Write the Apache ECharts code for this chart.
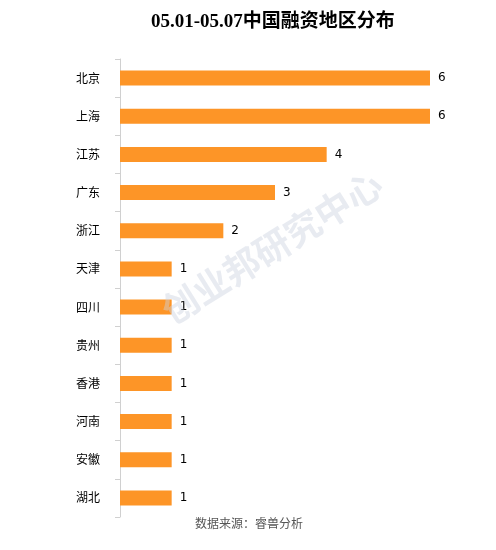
<!DOCTYPE html>
<html>
<head>
<meta charset="utf-8">
<title>融资地区分布</title>
<script src="https://cdn.jsdelivr.net/npm/echarts@6/dist/echarts.min.js"></script>
<style>
    html, body { margin: 0; padding: 0; background: #fff; }
    #main { width: 496px; height: 550px; }
</style>
</head>
<body>
<div id="main"></div>
<script type="text/javascript">
    // data
    var regions = ['北京', '上海', '江苏', '广东', '浙江', '天津', '四川', '贵州', '香港', '河南', '安徽', '湖北'];
    var counts = [6, 6, 4, 3, 2, 1, 1, 1, 1, 1, 1, 1];

    var myChart = echarts.init(document.getElementById('main'));
    var option = {
        backgroundColor: '#fff',
        animation: false,
        title: {
            text: '05.01-05.07中国融资地区分布',
            left: 146,
            top: 8,
            textStyle: {
                fontFamily: '"Liberation Serif", "Noto Sans CJK SC", serif',
                fontSize: 19,
                fontWeight: 'bold',
                color: '#000'
            }
        },
        grid: {
            left: 120,
            right: 66,
            top: 59,
            bottom: 33
        },
        xAxis: {
            type: 'value',
            min: 0,
            max: 6,
            show: false
        },
        yAxis: {
            type: 'category',
            inverse: true,
            data: regions,
            axisLine: { show: true, lineStyle: { color: '#d0d0d0' } },
            axisTick: { show: true, length: 5, lineStyle: { color: '#d0d0d0' } },
            axisLabel: {
                margin: 20,
                color: '#000',
                fontSize: 12,
                fontFamily: '"Noto Sans CJK SC", sans-serif'
            }
        },
        series: [
            {
                type: 'bar',
                data: counts,
                barWidth: 15,
                itemStyle: { color: '#FD9527' },
                label: {
                    show: true,
                    position: 'right',
                    distance: 8,
                    color: '#000',
                    fontSize: 12,
                    fontFamily: '"DejaVu Sans", sans-serif'
                }
            }
        ],
        graphic: [
            {
                type: 'text',
                left: 195,
                top: 517,
                style: {
                    text: '数据来源：睿兽分析',
                    fill: '#555',
                    font: '12px "Noto Sans CJK SC", sans-serif'
                }
            },
            {
                type: 'text',
                x: 272,
                y: 247,
                rotation: 32 * Math.PI / 180,
                z: 100,
                style: {
                    text: '创业邦研究中心',
                    fill: 'rgba(205, 210, 225, 0.45)',
                    font: 'bold 36px "Noto Sans CJK SC", sans-serif',
                    align: 'center',
                    verticalAlign: 'middle'
                }
            }
        ]
    };
    myChart.setOption(option);
</script>
</body>
</html>
